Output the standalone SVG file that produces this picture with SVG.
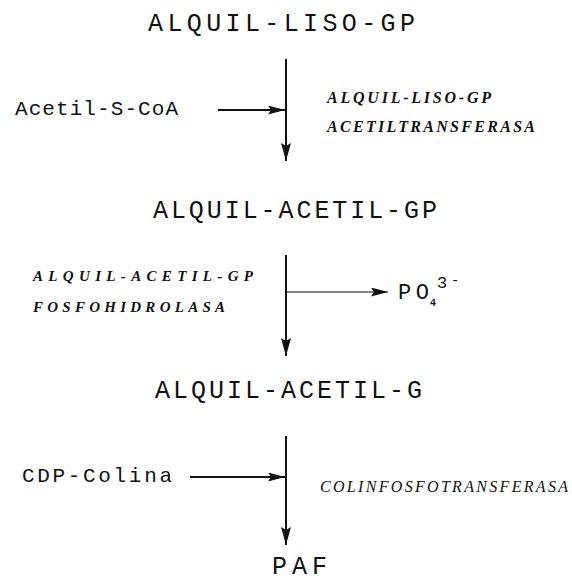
<svg xmlns="http://www.w3.org/2000/svg" width="572" height="584" viewBox="0 0 572 584">
<style>
.t{font-family:"Liberation Mono","DejaVu Sans Mono",monospace;font-size:25px;fill:#111}
.s{font-family:"Liberation Mono","DejaVu Sans Mono",monospace;font-size:21px;fill:#111}
.e{font-family:"Liberation Serif","DejaVu Serif",serif;font-style:italic;font-size:16px;fill:#111}
.eb{font-weight:bold}
.c{stroke:#111;stroke-width:2;fill:none}
.thin{stroke-width:1.2}
</style>
<defs>
<marker id="ah" viewBox="0 0 18 10" markerWidth="18" markerHeight="10" refX="18" refY="5" orient="auto" markerUnits="userSpaceOnUse">
<path d="M0,0 L18,5 L0,10 L3,5 z" fill="#111"/>
</marker>
<marker id="ahs" viewBox="0 0 17 9" markerWidth="17" markerHeight="9" refX="17" refY="4.5" orient="auto" markerUnits="userSpaceOnUse">
<path d="M0,0 L17,4.5 L0,9 L3,4.5 z" fill="#111"/>
</marker>
</defs>
<rect width="572" height="584" fill="#fff"/>
<g id="connectors">
<line class="c" x1="286" y1="59" x2="286" y2="161" marker-end="url(#ah)"/>
<line class="c" x1="218" y1="110" x2="285" y2="110" marker-end="url(#ahs)"/>
<line class="c" x1="286" y1="255" x2="286" y2="356" marker-end="url(#ah)"/>
<line class="c thin" x1="287" y1="292" x2="388" y2="292" marker-end="url(#ahs)"/>
<line class="c" x1="286" y1="436" x2="286" y2="545" marker-end="url(#ah)"/>
<line class="c" x1="190" y1="477" x2="285" y2="477" marker-end="url(#ahs)"/>
</g>
<g id="alquil-liso-gp"><text class="t" x="148" y="31" textLength="267" lengthAdjust="spacing">ALQUIL-LISO-GP</text></g>
<g id="acetil-s-coa"><text class="s" x="15" y="115" textLength="163" lengthAdjust="spacing">Acetil-S-CoA</text></g>
<g id="enzima-1">
<text class="e eb" x="327" y="103" textLength="164" lengthAdjust="spacing">ALQUIL-LISO-GP</text>
<text class="e eb" x="327" y="132" textLength="208" lengthAdjust="spacing">ACETILTRANSFERASA</text>
</g>
<g id="alquil-acetil-gp"><text class="t" x="153" y="218" textLength="284" lengthAdjust="spacing">ALQUIL-ACETIL-GP</text></g>
<g id="enzima-2">
<text class="e eb" x="33" y="281" textLength="220" lengthAdjust="spacing" style="font-size:15px">ALQUIL-ACETIL-GP</text>
<text class="e eb" x="33" y="312" textLength="192" lengthAdjust="spacing" style="font-size:15px">FOSFOHIDROLASA</text>
</g>
<g id="po4">
<text class="t" x="398" y="299" textLength="31" lengthAdjust="spacing" style="font-size:22px">PO</text>
<text class="t" x="430" y="306" style="font-size:10px;font-weight:bold">4</text>
<text class="t" x="437" y="288" style="font-size:17px">3</text>
<text class="t" x="451" y="285" style="font-size:14px">-</text>
</g>
<g id="alquil-acetil-g"><text class="t" x="155" y="398" textLength="267" lengthAdjust="spacing">ALQUIL-ACETIL-G</text></g>
<g id="cdp-colina"><text class="s" x="22" y="482" textLength="150" lengthAdjust="spacing">CDP-Colina</text></g>
<g id="enzima-3"><text class="e" x="320" y="492" textLength="248" lengthAdjust="spacing">COLINFOSFOTRANSFERASA</text></g>
<g id="paf"><text class="t" x="272" y="574" textLength="55" lengthAdjust="spacing">PAF</text></g>
</svg>
